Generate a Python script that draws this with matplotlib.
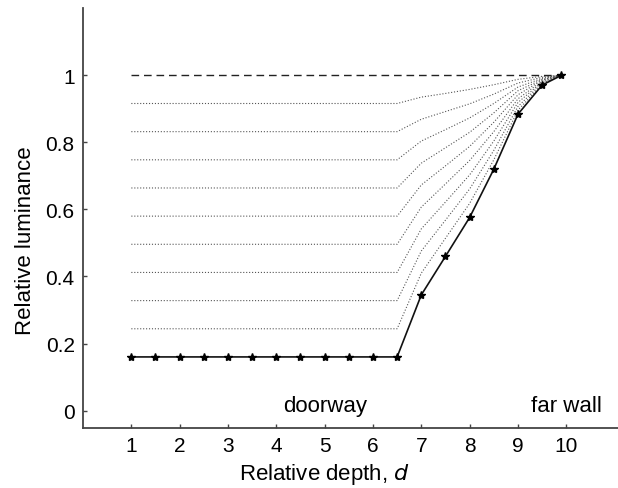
import matplotlib
matplotlib.use('Agg')
from matplotlib import pyplot as plt

plt.rcParams['font.family'] = ['Liberation Sans', 'DejaVu Sans']

# solid curve (stars)
depth = [1, 1.5, 2, 2.5, 3, 3.5, 4, 4.5, 5, 5.5, 6, 6.5,
         7, 7.5, 8, 8.5, 9, 9.5, 9.9]
lum = [0.16] * 12 + [0.345, 0.46, 0.576, 0.72, 0.884, 0.971, 1.0]

# dotted curves: flat part from d=1 to 6.5, then rise over these depths
ramp_depth = [6.5, 7, 7.5, 8, 8.5, 9, 9.5, 9.9]
dotted = [
    [0.244, 0.410, 0.514, 0.618, 0.748, 0.896, 0.974, 1.0],
    [0.328, 0.476, 0.568, 0.661, 0.776, 0.907, 0.977, 1.0],
    [0.412, 0.542, 0.622, 0.703, 0.804, 0.919, 0.980, 1.0],
    [0.496, 0.607, 0.676, 0.746, 0.832, 0.930, 0.983, 1.0],
    [0.580, 0.673, 0.730, 0.788, 0.860, 0.942, 0.986, 1.0],
    [0.664, 0.738, 0.784, 0.830, 0.888, 0.954, 0.988, 1.0],
    [0.748, 0.804, 0.838, 0.873, 0.916, 0.965, 0.991, 1.0],
    [0.832, 0.869, 0.892, 0.915, 0.944, 0.977, 0.994, 1.0],
    [0.916, 0.935, 0.946, 0.958, 0.972, 0.988, 0.997, 1.0],
]
dash_depth = [1, 9.9]
dash_lum = [1.0, 1.0]

xticks = [1, 2, 3, 4, 5, 6, 7, 8, 9, 10]
yticks = [0, 0.2, 0.4, 0.6, 0.8, 1]
ytick_labels = ['0', '0.2', '0.4', '0.6', '0.8', '1']

fig = plt.figure(figsize=(6.18, 4.89), dpi=100)
ax = fig.add_axes([0.1343, 0.1227, 0.8657, 0.8583])

for row in dotted:
    xs = [1] + ramp_depth
    ys = [row[0]] + row
    ax.plot(xs, ys, linestyle=':', color='#555555', linewidth=0.8)

ax.plot(dash_depth, dash_lum, color='#222222', linewidth=1.0, dashes=(5.5, 3.5))
ax.plot(depth, lum, color='#111111', linewidth=1.2, marker='*',
        markersize=6, markerfacecolor='k', markeredgecolor='k')

ax.text(5, 0, 'doorway', ha='center', va='baseline', fontsize=16)
ax.text(10, 0, 'far wall', ha='center', va='baseline', fontsize=16)

ax.set_xlim(0, 11.07)
ax.set_ylim(-0.052, 1.2)
ax.set_xticks(xticks)
ax.set_yticks(yticks)
ax.set_yticklabels(ytick_labels)
ax.tick_params(direction='in', length=3, width=1, color='#444444',
               labelsize=15, pad=6)

for side in ['top', 'right']:
    ax.spines[side].set_visible(False)
for side in ['left', 'bottom']:
    ax.spines[side].set_color('#444444')
    ax.spines[side].set_linewidth(1.3)

ax.set_xlabel('Relative depth, $\\it{d}$', fontsize=16)
ax.set_ylabel('Relative luminance', fontsize=16)
ax.xaxis.set_label_coords(0.452, -0.078)
ax.yaxis.set_label_coords(-0.088, 0.448)

fig.savefig('out.png', dpi=100)
